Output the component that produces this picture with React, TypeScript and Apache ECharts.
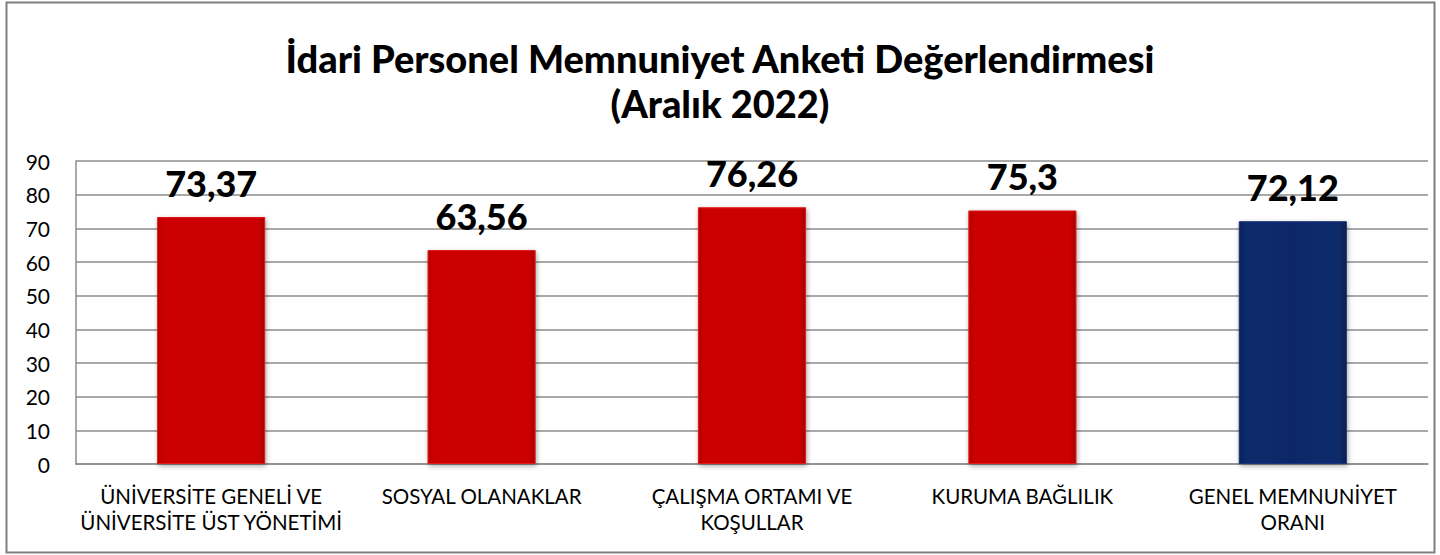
import React, { useEffect, useRef } from "react";
import * as echarts from "echarts";

const categories = [
  "ÜNİVERSİTE GENELİ VE\nÜNİVERSİTE ÜST YÖNETİMİ",
  "SOSYAL OLANAKLAR",
  "ÇALIŞMA ORTAMI VE\nKOŞULLAR",
  "KURUMA BAĞLILIK",
  "GENEL MEMNUNİYET\nORANI",
];
const values = [73.37, 63.56, 76.26, 75.3, 72.12];
const labels = ["73,37", "63,56", "76,26", "75,3", "72,12"];
const barKinds = ["red", "red", "red", "red", "navy"];

const FONT = "Lato, 'Open Sans', sans-serif";

function fillFor(kind: string) {
  if (kind === "navy") {
    return new echarts.graphic.LinearGradient(0, 0, 1, 0, [
      { offset: 0, color: "#0b2156" },
      { offset: 0.06, color: "#0f2a6b" },
      { offset: 0.5, color: "#0e2868" },
      { offset: 0.94, color: "#0f2a6b" },
      { offset: 1, color: "#091c4a" },
    ]);
  }
  return new echarts.graphic.LinearGradient(0, 0, 1, 0, [
    { offset: 0, color: "#b80000" },
    { offset: 0.06, color: "#cc0606" },
    { offset: 0.5, color: "#cb0404" },
    { offset: 0.94, color: "#cc0606" },
    { offset: 1, color: "#a80000" },
  ]);
}

export default function App() {
  const ref = useRef<HTMLDivElement>(null);
  useEffect(() => {
    if (!ref.current) return;
    const chart = echarts.init(ref.current, null, { renderer: "svg" });
    chart.setOption({
      animation: false,
      backgroundColor: "#ffffff",
      title: {
        text: "İdari Personel Memnuniyet Anketi Değerlendirmesi\n(Aralık 2022)",
        left: "center",
        top: 30,
        textStyle: {
          fontFamily: FONT,
          fontWeight: 900,
          fontSize: 38,
          lineHeight: 45,
          color: "#000",
        },
      },
      graphic: [
        {
          type: "rect",
          shape: { x: 6.5, y: 2.5, width: 1428, height: 550 },
          style: { fill: "none", stroke: "#7f7f7f", lineWidth: 2 },
          silent: true,
        },
      ],
      grid: { left: 76, right: 12, top: 161, bottom: 91, containLabel: false },
      xAxis: {
        type: "category",
        data: categories,
        axisTick: { show: false },
        axisLine: { show: true, lineStyle: { color: "#8c8c8c", width: 1.5 } },
        axisLabel: {
          fontFamily: FONT,
          fontSize: 20.5,
          color: "#000",
          lineHeight: 26,
          margin: 19,
          interval: 0,
        },
      },
      yAxis: {
        type: "value",
        min: 0,
        max: 90,
        interval: 10,
        axisLine: { show: true, lineStyle: { color: "#8c8c8c", width: 1.5 } },
        axisTick: { show: false },
        splitLine: { lineStyle: { color: "#8c8c8c", width: 1.5 } },
        axisLabel: {
          fontFamily: FONT,
          fontSize: 21,
          color: "#000",
          margin: 26,
        },
      },
      series: [
        {
          type: "bar",
          barWidth: "40%",
          data: values.map((v, i) => ({
            value: v,
            itemStyle: {
              color: fillFor(barKinds[i]),
              borderColor: barKinds[i] === "navy" ? "#16357f" : "#e01a1a",
              borderWidth: 1,
              shadowColor: "rgba(0,0,0,0.35)",
              shadowBlur: 5,
              shadowOffsetX: 1,
              shadowOffsetY: 2,
            },
            label: {
              show: true,
              position: "top",
              distance: 16,
              formatter: labels[i],
              fontFamily: FONT,
              fontWeight: 900,
              fontSize: 36,
              color: "#000",
            },
          })),
        },
      ],
    });
    return () => chart.dispose();
  }, []);
  return <div ref={ref} style={{ width: 1440, height: 555, position: "absolute", left: 0, top: 0 }} />;
}
